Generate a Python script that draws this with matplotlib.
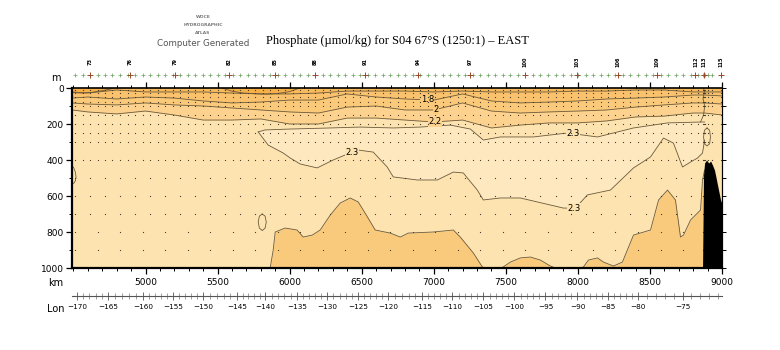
import numpy as np
import matplotlib
matplotlib.use("Agg")
import matplotlib.pyplot as plt
from matplotlib.ticker import MultipleLocator, FixedLocator, NullFormatter
import matplotlib.transforms as mtransforms

# ---------------- data (km along section, depth in m) ----------------
km_u = [4490, 4600, 4800, 5000, 5200, 5400, 5600, 5800, 6000, 6200, 6400, 6600,
        6800, 7000, 7200, 7400, 7600, 7800, 8000, 8200, 8400, 8600, 8800, 8880, 9000]
d_top = [22, 28, 11, 22, 22, 22, 28, 33, 33, 28, 17, 17, 17, 22, 17, 22, 22, 22,
         17, 17, 11, 11, 22, 22, 22]
d_18 = [56, 50, 61, 50, 56, 72, 83, 78, 67, 67, 33, 50, 61, 67, 33, 72, 83, 78,
        72, 61, 56, 50, 39, 39, 44]
d_20 = [83, 89, 94, 83, 94, 100, 111, 122, 133, 139, 106, 100, 122, 122, 83, 128,
        139, 133, 128, 122, 106, 94, 83, 83, 89]
d_22 = [122, 133, 144, 128, 150, 178, 178, 172, 200, 200, 167, 167, 178, 189, 178,
        222, 206, 194, 194, 183, 161, 156, 139, 139, 150]

p1_km = [4490, 4560, 4630, 4700, 4760, 4790]
p1_d = [25, 28, 24, 15, 5, 0]
p2_km = [5530, 5600, 5680, 5760, 5840, 5920, 6000, 6070]
p2_d = [0, 18, 28, 32, 34, 30, 20, 0]

u23_km = [5782, 5830, 6004, 6143, 6282, 6490, 6719, 6907, 7115, 7254, 7344, 7462,
          7691, 7927, 8136, 8386, 8622, 8851, 8879]
u23_d = [244, 233, 228, 225, 222, 217, 222, 217, 206, 228, 289, 272, 272, 250,
         272, 222, 194, 189, 189]
m23_km = [5782, 5851, 5955, 6004, 6073, 6191, 6302, 6469, 6580, 6677, 6719, 6886,
          7025, 7136, 7205, 7302, 7344, 7462, 7601, 7809, 7899, 7983, 8066, 8226,
          8386, 8504, 8594, 8663, 8726, 8782, 8830, 8865, 8879]
m23_d = [244, 317, 361, 389, 422, 444, 400, 344, 356, 439, 494, 511, 511, 467, 472,
         567, 622, 611, 611, 650, 667, 667, 594, 567, 444, 383, 278, 306, 439, 411,
         389, 361, 289]

deep_km = [4490, 5865, 5886, 5900, 5969, 6052, 6094, 6157, 6212, 6282, 6351, 6420,
           6476, 6532, 6594, 6698, 6768, 6823, 6997, 7136, 7184, 7275, 7337, 7358,
           7462, 7483, 7532, 7601, 7670, 7740, 7809, 7844, 8018, 8039, 8073, 8136,
           8177, 8247, 8309, 8386, 8504, 8560, 8622, 8677, 8712, 8733, 8782, 8851,
           8865, 8879]
deep_d = [1000, 1000, 900, 800, 778, 789, 828, 817, 789, 706, 639, 611, 633, 706,
          789, 806, 828, 806, 800, 789, 828, 917, 994, 1000, 1000, 994, 967, 944,
          939, 956, 989, 1000, 1000, 994, 956, 944, 967, 989, 967, 817, 789, 622,
          567, 622, 828, 817, 733, 678, 511, 456]

slope_km = [8851, 8872, 8880, 8868, 8878, 8872]
slope_d = [189, 150, 100, 60, 20, 0]

e1_km = [4490, 4503, 4514, 4518, 4514, 4503, 4490]
e1_d = [430, 445, 470, 495, 515, 528, 535]
e2_km = [5810, 5830, 5838, 5830, 5810, 5790, 5782, 5790, 5810]
e2_d = [700, 712, 745, 778, 792, 778, 745, 712, 700]
e3_km = [8896, 8914, 8920, 8914, 8896, 8878, 8872, 8878, 8896]
e3_d = [222, 235, 272, 310, 322, 310, 272, 235, 222]

topo_km = [8865, 8872, 8879, 8893, 8907, 8921, 8934, 8948, 8962, 8976, 8990, 9004]
topo_d = [1000, 483, 417, 400, 417, 406, 428, 456, 511, 567, 622, 650]

stations_km = [4511, 4563, 4615, 4667, 4719, 4771, 4824, 4876, 4928, 4980, 5032,
               5084, 5136, 5188, 5240, 5292, 5344, 5397, 5449, 5501, 5553, 5605,
               5657, 5709, 5761, 5813, 5865, 5917, 5969, 6022, 6074, 6126, 6178,
               6230, 6282, 6334, 6386, 6438, 6490, 6542, 6594, 6647, 6699, 6751,
               6803, 6855, 6907, 6959, 7011, 7063, 7115, 7167, 7219, 7272, 7324,
               7376, 7428, 7480, 7532, 7584, 7636, 7688, 7740, 7792, 7845, 7897,
               7949, 8001, 8053, 8105, 8157, 8209, 8261, 8313, 8365, 8417, 8470,
               8522, 8574, 8626, 8678, 8730, 8782, 8834, 8865, 8875, 8885, 8900,
               8930, 8990]
sample_depths = [10, 30, 50, 75, 100, 150, 200, 250, 300, 400, 500, 600, 700, 800,
                 900, 1000]
label_km = [4615, 4893, 5205, 5580, 5900, 6177, 6524, 6893, 7254, 7636, 7997, 8275,
            8552, 8816, 8872, 8990]
label_txt = ["73", "76", "79", "82", "85", "88", "91", "94", "97", "100", "103",
             "106", "109", "112", "113", "115"]

lon_ticks = [-170, -165, -160, -155, -150, -145, -140, -135, -130, -125, -120,
             -115, -110, -105, -100, -95, -90, -85, -80, -75]
lon_km = [4525, 4740, 4983, 5191, 5400, 5636, 5830, 6052, 6261, 6476, 6684, 6920,
          7129, 7344, 7559, 7775, 7997, 8212, 8420, 8726]

clabels = [("1.8", 6955, d_18), ("2", 7017, d_20), ("2.2", 7011, d_22)]

# ---------------- colours ----------------
c_patch = "#F7AF48"
c_top = "#F9BA5C"
c_1618 = "#FAC26C"
c_1820 = "#FBC97A"
c_2022 = "#FCD28E"
c_cream = "#FDE3B0"
c_23 = "#FEE8C0"
c_deep = "#FACA7C"
c_line = "#6a5a3c"

fig = plt.figure(figsize=(7.8, 3.5), dpi=100)
ax = fig.add_axes([72 / 780, 1 - 268 / 350, 650 / 780, 180 / 350])
ax.set_xlim(4490, 9000)
ax.set_ylim(1000, 0)
ax.set_facecolor(c_cream)

ax.fill_between(km_u, 0, d_22, color=c_2022, lw=0)
ax.fill_between(km_u, 0, d_20, color=c_1820, lw=0)
ax.fill_between(km_u, 0, d_18, color=c_1618, lw=0)
ax.fill_between(km_u, 0, d_top, color=c_top, lw=0)
ax.fill_between(p1_km, 0, p1_d, color=c_patch, lw=0)
ax.fill_between(p2_km, 0, p2_d, color=c_patch, lw=0)
ax.fill(list(u23_km) + list(m23_km[::-1]), list(u23_d) + list(m23_d[::-1]),
        color=c_23, lw=0)
ax.fill_between(deep_km, deep_d, 1000, color=c_deep, lw=0)

lw = 0.6
for xs, ys in [(km_u, d_top), (km_u, d_18), (km_u, d_20), (km_u, d_22),
               (p1_km, p1_d), (p2_km, p2_d), (u23_km, u23_d), (m23_km, m23_d),
               (deep_km, deep_d), (slope_km, slope_d), (e1_km, e1_d),
               (e2_km, e2_d), (e3_km, e3_d)]:
    ax.plot(xs, ys, color=c_line, lw=lw, solid_joinstyle="round")

# contour labels
lab_kw = dict(fontsize=6, ha="center", va="center", color="black",
              family="DejaVu Sans")
for txt, k, arr in clabels:
    dd = np.interp(k, km_u, arr)
    ax.text(k, dd, txt, bbox=dict(boxstyle="square,pad=0.05",
                                  fc=c_1820 if txt != "2.2" else c_2022, ec="none"),
            **lab_kw)
for k in [7969]:
    ax.text(k, np.interp(k, u23_km, u23_d), "2.3",
            bbox=dict(boxstyle="square,pad=0.05", fc=c_cream, ec="none"), **lab_kw)
for k in [6434, 7976]:
    ax.text(k, np.interp(k, m23_km, m23_d), "2.3",
            bbox=dict(boxstyle="square,pad=0.05", fc=c_cream, ec="none"), **lab_kw)

# topography
ax.fill_between(topo_km, topo_d, 1000, color="black", lw=0, zorder=5)

# sample dots
dx, dy = [], []
for i, k in enumerate(stations_km):
    tdep = np.interp(k, topo_km, topo_d, left=1000, right=650)
    for d in sample_depths:
        if 450 < d <= 750 and i % 2:
            continue
        if d > 750 and i % 3:
            continue
        if d < tdep - 5:
            dx.append(k)
            dy.append(d)
ax.plot(dx, dy, ls="none", marker="s", ms=0.8, mew=0, color="#4a4030", zorder=4)

# spines and ticks
for s in ["left", "bottom"]:
    ax.spines[s].set_linewidth(1.6)
ax.spines["top"].set_linewidth(1.2)
ax.spines["right"].set_linewidth(0.8)
for s in ax.spines.values():
    s.set_zorder(10)

ax.yaxis.set_major_locator(MultipleLocator(200))
ax.yaxis.set_minor_locator(MultipleLocator(100))
ax.tick_params(axis="x", which="both", direction="out", top=True, labelsize=6.5,
               pad=3)
ax.tick_params(axis="x", which="major", length=4.5, width=0.9)
ax.tick_params(axis="x", which="minor", length=2.5, width=0.7)
ax.tick_params(axis="y", which="major", direction="out", length=4, width=0.9,
               labelsize=6.5, pad=2)
ax.tick_params(axis="y", which="minor", direction="out", length=2.5, width=0.7)
ax.set_xticks([5000, 5500, 6000, 6500, 7000, 7500, 8000, 8500, 9000])
ax.set_xticklabels(["5000", "5500", "6000", "6500", "7000", "7500", "8000",
                    "8500", "9000"])
ax.set_xticks([k for k in range(4500, 9001, 100)], minor=True)

sy = ax.secondary_yaxis("right")
sy.yaxis.set_major_locator(MultipleLocator(100))
sy.yaxis.set_major_formatter(NullFormatter())
sy.tick_params(direction="out", length=3, width=0.7)
sy.spines["right"].set_linewidth(0.8)

# longitude axis
lon_minor = list(range(-171, -69))
lon_minor_km = np.interp(lon_minor, lon_ticks + [-70], lon_km + [9030])
lon_minor_km = [k for k in lon_minor_km if 4490 <= k <= 9000]
sl = ax.secondary_xaxis(-0.1556)
sl.set_xticks(lon_km)
sl.set_xticklabels(["\u2212%d" % abs(v) for v in lon_ticks])
sl.xaxis.set_minor_locator(FixedLocator(lon_minor_km))
sl.tick_params(which="major", direction="inout", length=6, width=0.6,
               color="#555555", labelsize=5.2, pad=3)
sl.tick_params(which="minor", direction="inout", length=4.5, width=0.5,
               color="#777777")
sl.spines["bottom"].set_color("#555555")
sl.spines["bottom"].set_linewidth(0.8)

# station markers and labels on top
trans = mtransforms.blended_transform_factory(ax.transData, ax.transAxes)
ax.plot(stations_km, [1.072] * len(stations_km), ls="none", marker="+", ms=3.2,
        mew=0.5, color="#6aa060", transform=trans, clip_on=False)
ax.plot(label_km, [1.072] * len(label_km), ls="none", marker="+", ms=5,
        mew=0.7, color="#9a4a2a", transform=trans, clip_on=False)
for k, t in zip(label_km, label_txt):
    ax.text(k, 1.145, t, rotation=90, fontsize=3.6, ha="center", va="center",
            transform=trans, clip_on=False, color="black", weight="bold")

# labels
fig.text(56 / 780, 1 - 78 / 350, "m", fontsize=7, ha="center", va="center")
fig.text(56 / 780, 1 - 283 / 350, "km", fontsize=7, ha="center", va="center")
fig.text(56 / 780, 1 - 309 / 350, "Lon", fontsize=7, ha="center", va="center")

fig.text(397 / 780, 1 - 41 / 350,
         "Phosphate (\u00b5mol/kg) for S04 67\u00b0S (1250:1) \u2013 EAST",
         fontsize=9, ha="center", va="center", family="Liberation Serif")
for yy, t in [(17, "WOCE"), (25, "HYDROGRAPHIC"), (33, "ATLAS")]:
    fig.text(203 / 780, 1 - yy / 350, t, fontsize=3.2, ha="center", va="center",
             color="#777777", weight="bold")
fig.text(203 / 780, 1 - 44 / 350, "Computer Generated", fontsize=6.3,
         ha="center", va="center", color="#555555")

fig.savefig("out.png", dpi=100)
